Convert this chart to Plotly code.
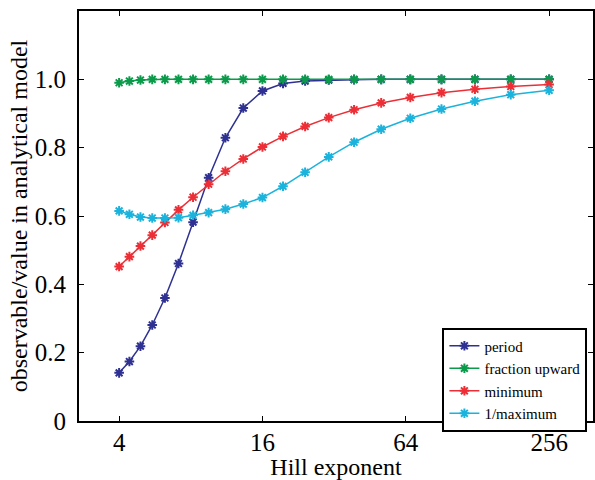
import plotly.graph_objects as go

# Hill exponents sampled (log2(log2 n) evenly spaced from 1 to 3)
hill_n = [4, 4.418, 4.916, 5.511, 6.229, 7.103, 8.177, 9.507, 11.18, 13.29, 16,
          19.52, 24.17, 30.38, 38.81, 50.45, 66.85, 90.38, 124.9, 176.6, 256]

period = [0.141, 0.174, 0.219, 0.281, 0.360, 0.461, 0.582, 0.712, 0.829, 0.916, 0.966,
          0.988, 0.995, 0.998, 0.999, 1.0, 1.0, 1.0, 1.0, 1.0, 1.0]
fraction_upward = [0.990, 0.995, 0.998, 1.0, 1.0, 1.0, 1.0, 1.0, 1.0, 1.0, 1.0,
                   1.0, 1.0, 1.0, 1.0, 1.0, 1.0, 1.0, 1.0, 1.0, 1.0]
minimum = [0.452, 0.481, 0.512, 0.544, 0.581, 0.618, 0.655, 0.693, 0.731, 0.767, 0.802,
           0.833, 0.862, 0.888, 0.911, 0.931, 0.947, 0.961, 0.971, 0.979, 0.985]
inv_maximum = [0.615, 0.605, 0.597, 0.594, 0.594, 0.595, 0.602, 0.610, 0.620, 0.635, 0.654,
               0.687, 0.728, 0.773, 0.816, 0.854, 0.886, 0.913, 0.936, 0.955, 0.968]

series_names = ["period", "fraction upward", "minimum", "1/maximum"]
series_colors = ["#2e3192", "#0a9a4a", "#ec2f36", "#1bb3dc"]
x_ticks = [4, 16, 64, 256]
y_ticks = [0, 0.2, 0.4, 0.6, 0.8, 1.0]
y_tick_text = ["0", "0.2", "0.4", "0.6", "0.8", "1.0"]

FONT = "Times New Roman, Liberation Serif, serif"

fig = go.Figure()
for name, ys, col in zip(series_names, [period, fraction_upward, minimum, inv_maximum], series_colors):
    fig.add_trace(go.Scatter(
        x=hill_n, y=ys, name=name, mode="lines+markers",
        line=dict(color=col, width=1.5),
        marker=dict(symbol="asterisk-open", size=8, color=col, line=dict(color=col, width=2)),
    ))

axis_common = dict(
    showline=True, linecolor="black", linewidth=1.5, mirror="ticks",
    ticks="inside", ticklen=5, tickwidth=1, tickcolor="black",
    showgrid=False, zeroline=False,
    tickfont=dict(family=FONT, size=25, color="black"),
)

fig.update_xaxes(
    type="log", range=[0.4335, 2.5925],
    tickvals=x_ticks, ticktext=[str(v) for v in x_ticks],
    ticklabelstandoff=-2,
    title=dict(text="Hill exponent", font=dict(family=FONT, size=24, color="black"), standoff=4),
    **axis_common,
)
fig.update_yaxes(
    range=[0, 1.2], tickvals=y_ticks, ticktext=[t + "\u00a0" for t in y_tick_text],
    title=dict(text="observable/value in analytical model", font=dict(family=FONT, size=24, color="black"), standoff=0),
    **axis_common,
)

fig.update_layout(
    width=595, height=480,
    margin=dict(l=79, r=0, t=11, b=59),
    plot_bgcolor="white", paper_bgcolor="white",
    font=dict(family=FONT, color="black"),
    legend=dict(
        x=0.707, y=0.228, xanchor="left", yanchor="top",
        bgcolor="white", bordercolor="black", borderwidth=2,
        font=dict(family=FONT, size=15, color="black"),
        tracegroupgap=0, itemwidth=30,
    ),
    showlegend=True,
)

fig.write_html("out.html")
